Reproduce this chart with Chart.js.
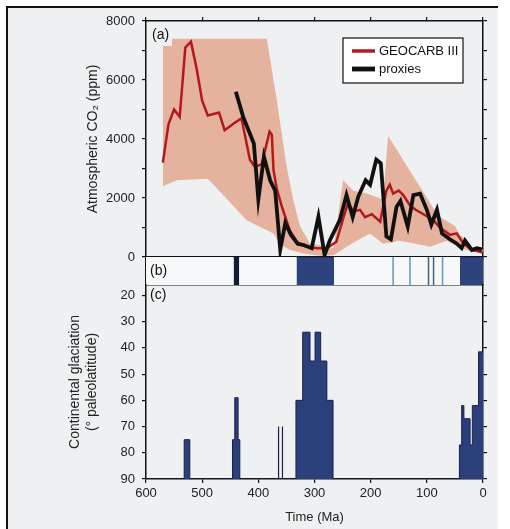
<!DOCTYPE html>
<html>
<head>
<meta charset="utf-8">
<script src="https://cdn.jsdelivr.net/npm/chart.js@4.4.0/dist/chart.umd.min.js"></script>
<style>
html, body { margin: 0; padding: 0; background: #fff; }
#page { position: relative; width: 510px; height: 529px; overflow: hidden; }
#frame { position: absolute; left: 6px; top: 6px; width: 490px; height: 530px;
  border-top: 2px solid #111; border-left: 2px solid #111; background: #eef0f2; }
canvas { position: absolute; left: 0; top: 0; }
</style>
</head>
<body>
<div id="page">
  <div id="frame"></div>
  <canvas id="chartA" width="510" height="529"></canvas>
  <canvas id="chartB" width="510" height="529"></canvas>
  <canvas id="chartC" width="510" height="529"></canvas>
</div>
<script>
// (a) GEOCARB III model, Ma / ppm
const geocarbAge = [570,560,550,540,530,520,510,500,490,470,460,442,430,415,406,394,380,376,373,367,358,344,329,314,296,278,261,249,240,231,219,210,198,183,172,166,160,150,142,130,120,106,88,77,59,47,35,20,5,0];
const geocarbCO2 = [3200,4500,5000,4750,7100,7300,6400,5300,4800,4900,4300,4550,4700,3300,3050,3150,4250,4150,2950,2300,1700,900,450,350,300,300,520,1300,1850,1550,1600,1350,1450,1200,2250,2450,2150,2250,2100,1750,1600,1450,1250,1000,750,800,460,240,180,150];

// (a) proxy record
const proxyAge = [440,427,408,400,390,379,370,361,352,342,330,318,305,293,282,273,255,243,232,222,209,201,190,182,172,164,154,147,134,124,112,100,92,82,73,59,47,38,32,20,11,2];
const proxyCO2 = [5600,4750,3850,1950,3400,2600,2250,250,1150,750,450,400,300,1370,70,550,1250,2100,1350,2050,2600,2450,3300,3180,700,600,1700,1900,1030,2100,2150,1600,1100,1600,800,600,460,300,560,240,300,260];

// (a) model uncertainty envelope
const envUpAge = [570,385,367,350,338,326,308,290,266,249,231,207,185,178,169,80,50,41,30,23,5,0];
const envUp    = [7400,7400,5300,3100,1950,1050,450,400,300,2600,2250,2150,2000,1950,4100,1400,1050,750,600,350,300,250];
const envLowAge = [570,545,490,450,421,373,362,345,320,290,266,243,220,201,178,148,120,94,65,40,17,0];
const envLow    = [2400,2600,2650,1850,1250,800,450,250,120,40,60,350,600,800,450,550,450,350,550,300,180,150];

// (b) glacial intervals
const iceShortFrom = [444];
const iceShortTo = [434];
const iceLongFrom = [332, 41];
const iceLongTo = [265, 0];
const iceLinesTeal = [160, 130, 72];
const iceLinesDark = [97, 88];

// (c) continental glaciation, paleolatitude reached (90 = none)
const glacAge = [600,532,522,446,442,436,433,333,321,308,299,289,278,267,42,38,34,23,19,8,0];
const glacLat = [90,75,90,75,59,75,90,60,34,45,34,45,60,90,77,62,67,77,62,41.5,41.5];
const glacOpenAge = [364, 357];
const glacOpenLat = 70;
const latTickValues = [20, 30, 40, 50, 60, 70, 80, 90];

Chart.defaults.font.family = '"Liberation Sans", Arial, sans-serif';
Chart.defaults.font.size = 13;
Chart.defaults.color = '#222';

const INK = '#111';
const BG = '#eef0f2';

function pts(xs, ys) {
  return xs.map((x, i) => ({x: x, y: ys[i]}));
}
function blocks(from, to, top) {
  const out = [];
  from.forEach((f, i) => out.push({x: f, y: top}, {x: to[i], y: top}, {x: to[i], y: null}));
  return out;
}
function verticals(xs, y0, y1) {
  const out = [];
  xs.forEach(x => out.push({x: x, y: y0}, {x: x, y: y1}, {x: x, y: null}));
  return out;
}

const panelTag = {
  id: 'panelTag',
  afterDatasetsDraw(chart, args, opts) {
    const {ctx, chartArea: ca} = chart;
    ctx.save();
    if (opts.bg) {
      ctx.fillStyle = opts.bg;
      ctx.fillRect(ca.left + 1, ca.top + 3, 25, 22);
    }
    ctx.font = '14px "Liberation Sans", Arial, sans-serif';
    ctx.fillStyle = INK;
    ctx.textBaseline = 'middle';
    ctx.fillText(opts.text, ca.left + opts.dx, ca.top + opts.dy);
    ctx.restore();
  }
};

const legendBox = {
  id: 'legendBox',
  afterDatasetsDraw(chart, args, opts) {
    if (!opts.show) return;
    const {ctx, chartArea: ca} = chart;
    const x = ca.left + 197, y = ca.top + 17, w = 120, h = 45;
    ctx.save();
    ctx.fillStyle = '#fff';
    ctx.fillRect(x, y, w, h);
    ctx.strokeStyle = INK;
    ctx.lineWidth = 1.2;
    ctx.strokeRect(x, y, w, h);
    ctx.font = '13px "Liberation Sans", Arial, sans-serif';
    ctx.textBaseline = 'middle';
    let row = 0;
    chart.data.datasets.forEach(ds => {
      if (!ds.label) return;
      const cy = y + 13 + row * 18;
      ctx.strokeStyle = ds.borderColor;
      ctx.lineWidth = ds.borderWidth + 1;
      ctx.beginPath();
      ctx.moveTo(x + 9, cy);
      ctx.lineTo(x + 32, cy);
      ctx.stroke();
      ctx.fillStyle = INK;
      ctx.fillText(ds.label, x + 36, cy);
      row++;
    });
    ctx.restore();
  }
};

const areaFill = {
  id: 'areaFill',
  beforeDatasetsDraw(chart, args, opts) {
    if (!opts.color) return;
    const {ctx, chartArea: ca} = chart;
    ctx.save();
    ctx.fillStyle = opts.color;
    ctx.fillRect(ca.left, ca.top, ca.width, ca.height);
    ctx.restore();
  }
};

function timeAxis(position, size, showLabels) {
  return {
    type: 'linear', position: position, min: 0, max: 600, reverse: true,
    ticks: {stepSize: 100, display: showLabels, maxRotation: 0, padding: 3, font: {size: 13}},
    grid: {drawOnChartArea: false, drawTicks: size > 0, tickLength: 4, color: INK, lineWidth: 1.2},
    border: {color: INK, width: 1.5},
    afterFit: s => { s.height = size; }
  };
}
function sideAxis(position, min, max, step, width, extra) {
  return Object.assign({
    type: 'linear', position: position, min: min, max: max,
    ticks: {stepSize: step, display: false, autoSkip: false},
    grid: {drawOnChartArea: false, drawTicks: step > 0, tickLength: 4, color: INK, lineWidth: 1.2},
    border: {color: INK, width: 1.5},
    afterFit: s => { s.width = width; }
  }, extra || {});
}

const common = {
  responsive: false, devicePixelRatio: 1, animation: false,
  elements: {point: {radius: 0}, line: {tension: 0}},
  spanGaps: false
};

// ---- (a) CO2 ----
new Chart('chartA', {
  type: 'line',
  data: {
    datasets: [
      {data: pts(envUpAge, envUp), fill: '+1', backgroundColor: 'rgb(229,178,158)',
       borderColor: 'rgba(0,0,0,0)', borderWidth: 0, order: 3},
      {data: pts(envLowAge, envLow), fill: false, borderColor: 'rgba(0,0,0,0)', borderWidth: 0, order: 3},
      {label: 'GEOCARB III', data: pts(geocarbAge, geocarbCO2), borderColor: '#b3191c',
       borderWidth: 2.5, fill: false, order: 2},
      {label: 'proxies', data: pts(proxyAge, proxyCO2), borderColor: INK,
       borderWidth: 3.8, fill: false, order: 1}
    ]
  },
  options: Object.assign({}, common, {
    layout: {padding: {left: 0, right: 23, top: 17, bottom: 266}},
    scales: {
      x: timeAxis('bottom', 6, false),
      x2: timeAxis('top', 4, false),
      y: sideAxis('left', 0, 8000, 1000, 146, {
        ticks: {stepSize: 1000, autoSkip: false, padding: 7, font: {size: 13},
                callback: v => (v % 2000 === 0 ? v : '')},
        title: {display: true, text: 'Atmospheric CO\u2082 (ppm)', font: {size: 14},
                color: '#222', padding: {top: 85, bottom: 0}}
      }),
      y2: sideAxis('right', 0, 8000, 1000, 4)
    },
    plugins: {
      legend: {display: false}, tooltip: {enabled: false},
      legendBox: {show: true},
      panelTag: {text: '(a)', dx: 6, dy: 14, bg: BG}
    }
  }),
  plugins: [legendBox, panelTag]
});

// ---- (b) glacial intervals ----
new Chart('chartB', {
  type: 'line',
  data: {
    datasets: [
      {data: blocks(iceShortFrom, iceShortTo, 1), fill: 'origin', backgroundColor: '#111b3a',
       borderColor: '#111b3a', borderWidth: 1},
      {data: blocks(iceLongFrom, iceLongTo, 1), fill: 'origin', backgroundColor: '#2d437d',
       borderColor: '#1d2b55', borderWidth: 1},
      {data: verticals(iceLinesTeal, 0, 1), fill: false, borderColor: '#5b9cb0', borderWidth: 1.5},
      {data: verticals(iceLinesDark, 0, 1), fill: false, borderColor: '#4a5f80', borderWidth: 1.5}
    ]
  },
  options: Object.assign({}, common, {
    layout: {padding: {left: 0, right: 27, top: 257, bottom: 244}},
    scales: {
      x: timeAxis('bottom', 0, false),
      y: sideAxis('left', 0, 1, 0, 146),
      y2: sideAxis('right', 0, 1, 0, 0)
    },
    plugins: {
      legend: {display: false}, tooltip: {enabled: false},
      areaFill: {color: '#f7f8f9'},
      panelTag: {text: '(b)', dx: 4, dy: 14.5}
    }
  }),
  plugins: [areaFill, panelTag]
});

// ---- (c) continental glaciation ----
const latTicks = s => { s.ticks = latTickValues.map(v => ({value: v})); };
new Chart('chartC', {
  type: 'line',
  data: {
    datasets: [
      {data: pts(glacAge, glacLat), stepped: 'before', fill: {value: 90},
       backgroundColor: '#2b3f7a', borderColor: '#17224a', borderWidth: 1},
      {data: verticals(glacOpenAge, 90, glacOpenLat), fill: false, borderColor: '#1a2340', borderWidth: 1.2}
    ]
  },
  options: Object.assign({}, common, {
    layout: {padding: {left: 0, right: 23, top: 285, bottom: 0}},
    scales: {
      x: Object.assign(timeAxis('bottom', 50, true), {
        title: {display: true, text: 'Time (Ma)', font: {size: 13}, color: '#222', padding: {top: 0, bottom: 4}}
      }),
      y: sideAxis('left', 16, 90, 10, 146, {
        reverse: true,
        ticks: {stepSize: 10, autoSkip: false, padding: 7, font: {size: 13}},
        afterBuildTicks: latTicks,
        title: {display: true, text: ['Continental glaciation', '(\u00b0 paleolatitude)'],
                font: {size: 14}, color: '#222', padding: {top: 67, bottom: 0}}
      }),
      y2: sideAxis('right', 16, 90, 10, 4, {reverse: true, afterBuildTicks: latTicks})
    },
    plugins: {
      legend: {display: false}, tooltip: {enabled: false},
      panelTag: {text: '(c)', dx: 4, dy: 10.5}
    }
  }),
  plugins: [panelTag]
});
</script>
</body>
</html>
